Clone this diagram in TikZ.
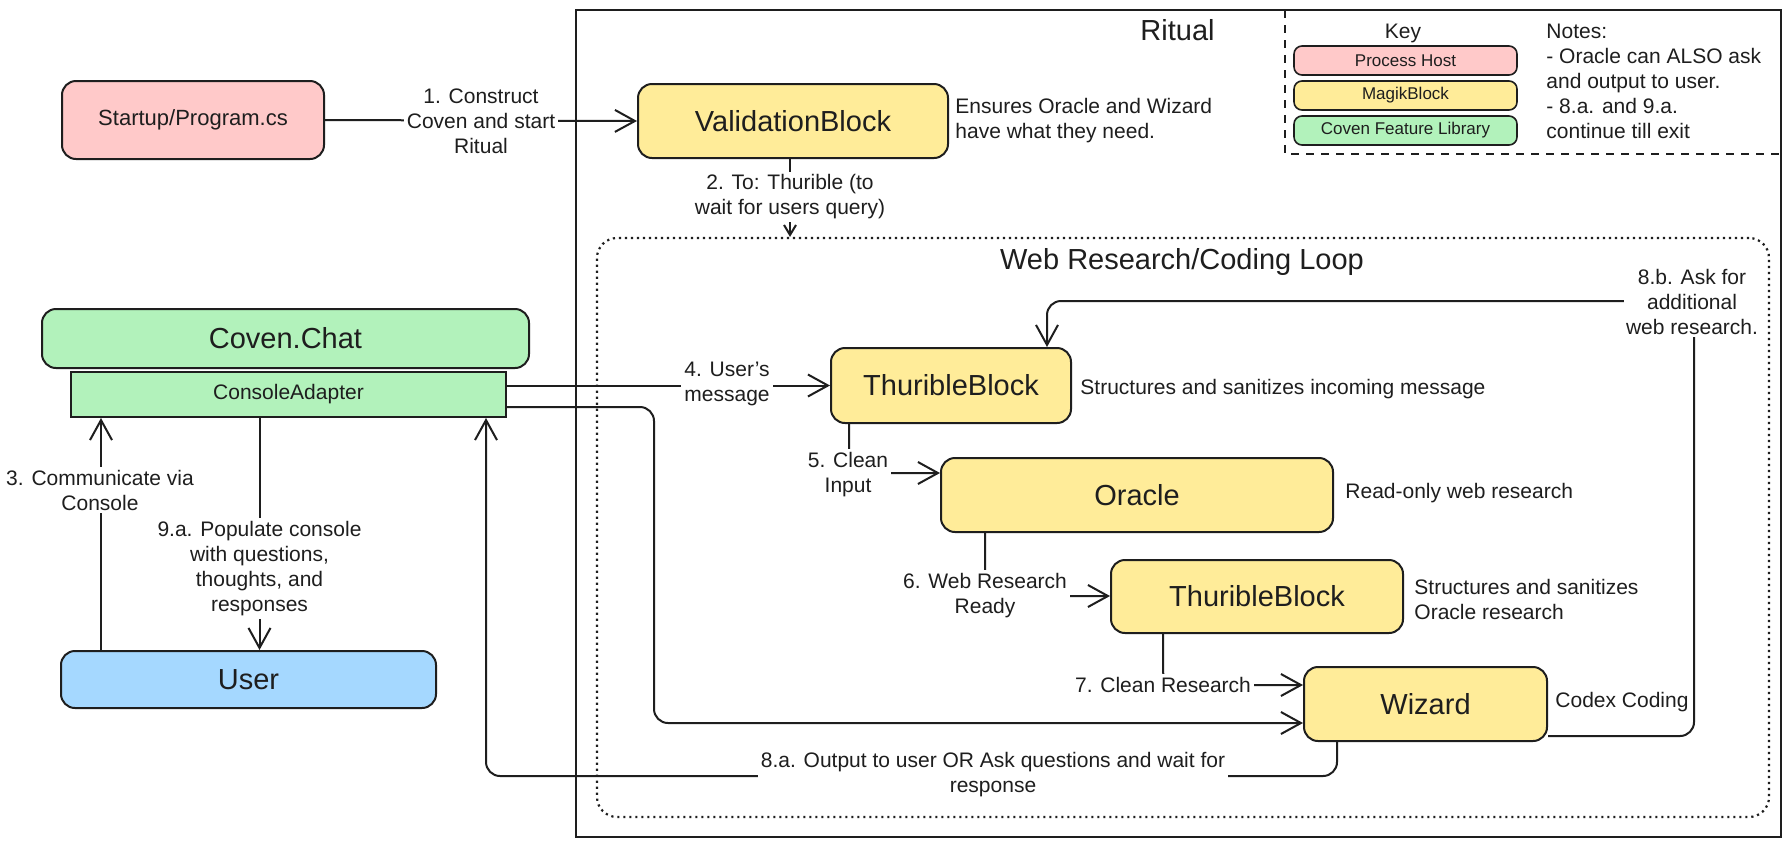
\documentclass[tikz,border=0pt]{standalone}
\usepackage{fontspec}
\setmainfont{Liberation Sans}
\usetikzlibrary{arrows.meta,calc}
\definecolor{ink}{HTML}{1E1E1E}
\definecolor{pinkf}{HTML}{FFC9C9}
\definecolor{yelf}{HTML}{FFEC99}
\definecolor{grnf}{HTML}{B2F2BB}
\definecolor{bluf}{HTML}{A5D8FF}
\begin{document}
\begin{tikzpicture}[x=0.5pt,y=-0.5pt,
  box/.style={draw=ink,line width=1pt,rounded corners=7pt,text=ink,align=center,inner sep=0pt},
  bigt/.style={font=\fontsize{14.5}{16}\selectfont},
  keyitem/.style={box,rounded corners=4pt,line width=0.8pt,minimum width=111.5pt,minimum height=14.5pt,font=\fontsize{8.5}{10}\selectfont},
  lbl/.style={fill=white,text=ink,align=center,inner sep=1.5pt,font=\fontsize{10.5}{12.5}\selectfont},
  note/.style={text=ink,align=left,anchor=west,inner sep=0pt,font=\fontsize{10.5}{12.5}\selectfont},
  heading/.style={text=ink,inner sep=0pt,font=\fontsize{14.5}{16}\selectfont},
  arr/.style={draw=ink,line width=1pt,rounded corners=7pt,-{Straight Barb[length=10pt,width=11pt,line width=1pt]}},
  smallarr/.style={arr,-{Straight Barb[length=5pt,width=6pt,line width=1pt]}}
]
\useasboundingbox (0,0) rectangle (1791,847);
\fill[white] (0,0) rectangle (1791,847);

% frames
\node[draw=ink,line width=1pt,minimum width=602.5pt,minimum height=413.5pt,inner sep=0pt] (ritual) at (1178.5,423.5) {};
\draw[ink,line width=0.9pt,dash pattern=on 4pt off 3.5pt] (1285,10) -- (1285,154) -- (1781,154);
\node[draw=ink,line width=1.1pt,dash pattern=on 1.1pt off 1.9pt,rounded corners=10pt,minimum width=586pt,minimum height=289.5pt,inner sep=0pt] (loop) at (1183,527.5) {};
\node[heading] (ritualt) at (1177.5,30) {Ritual};
\node[heading] (loopt) at (1182,262) {Web Research/Coding Loop};

% key
\node[text=ink,inner sep=0pt,font=\fontsize{10.5}{12}\selectfont] (keyt) at (1403,33) {Key};
\node[keyitem,fill=pinkf] (kph) at (1405.5,60.5) {Process Host};
\node[keyitem,fill=yelf] (kmb) at (1405.5,95.5) {MagikBlock};
\node[keyitem,fill=grnf] (kcf) at (1405.5,130.5) {Coven Feature Library};
\node[note,anchor=north west,font=\fontsize{10.5}{12.5}\selectfont] (notes) at (1546,24) {Notes:\\- Oracle can ALSO ask\\and output to user.\\- 8.a. and 9.a.\\continue till exit};

% boxes
\node[box,fill=pinkf,minimum width=131pt,minimum height=39pt,font=\fontsize{11}{13}\selectfont] (startup) at (193,120) {Startup/Program.cs};
\node[box,fill=yelf,bigt,minimum width=155pt,minimum height=37pt] (val) at (793,121) {ValidationBlock};
\node[box,fill=grnf,bigt,minimum width=243.5pt,minimum height=29.5pt] (chat) at (285.5,338.5) {Coven.Chat};
\node[box,fill=grnf,rounded corners=0pt,minimum width=217.5pt,minimum height=22.5pt,font=\fontsize{10.5}{12}\selectfont] (ca) at (288.5,394.5) {ConsoleAdapter};
\node[box,fill=bluf,bigt,minimum width=187.5pt,minimum height=28.5pt] (user) at (248.5,679.5) {User};
\node[box,fill=yelf,bigt,minimum width=120pt,minimum height=37.5pt] (tb1) at (951,385.5) {ThuribleBlock};
\node[box,fill=yelf,bigt,minimum width=196pt,minimum height=37pt] (oracle) at (1137,495) {Oracle};
\node[box,fill=yelf,bigt,minimum width=146pt,minimum height=36.5pt] (tb2) at (1257,596.5) {ThuribleBlock};
\node[box,fill=yelf,bigt,minimum width=121.5pt,minimum height=37pt] (wiz) at (1425.5,704) {Wizard};

% helper coordinates
\coordinate (x2) at (790,0);
\coordinate (x3) at (101,0);
\coordinate (x9) at (259.5,0);
\coordinate (x8a) at (486,0);
\coordinate (ywz) at (0,407);
\coordinate (c5) at (849,473);
\coordinate (c6) at (985,596);
\coordinate (c7) at (1163,685);
\coordinate (cw1) at (654,407);
\coordinate (cw2) at (654,723);
\coordinate (c8a1) at (1337,776);
\coordinate (c8a2) at (486,776);
\coordinate (c8b0) at (0,736);
\coordinate (c8b1) at (1694,736);
\coordinate (c8b2) at (1694,301);
\coordinate (c8b3) at (1047,301);

% connectors
\draw[arr] (startup.east) -- (val.west);
\draw[smallarr] (val.south -| x2) -- (x2 |- loop.north);
\draw[arr] (user.north -| x3) -- (ca.south -| x3);
\draw[arr] (ca.south -| x9) -- (user.north -| x9);
\draw[arr] (ca.east |- tb1.west) -- (tb1.west);
\draw[arr] (ca.east |- ywz) -- (cw1) -- (cw2) -- (wiz.west |- cw2);
\draw[arr] (tb1.south -| c5) -- (c5) -- (oracle.west |- c5);
\draw[arr] (oracle.south -| c6) -- (c6) -- (tb2.west |- c6);
\draw[arr] (tb2.south -| c7) -- (c7) -- (wiz.west |- c7);
\draw[arr] (wiz.south -| c8a1) -- (c8a1) -- (c8a2) -- (ca.south -| x8a);
\draw[arr] (wiz.east |- c8b0) -- (c8b1) -- (c8b2) -- (c8b3) -- (tb1.north -| c8b3);

% labels
\node[lbl] (l1) at (481,121) {1. Construct\\Coven and start\\Ritual};
\node[lbl] (l2) at (790,197) {2. To: Thurible (to\\wait for users query)};
\node[lbl] (l3) at (100,490) {3. Communicate via\\Console};
\node[lbl] (l4) at (727,384) {4. User's\\message};
\node[lbl] (l5) at (848,474.5) {5. Clean\\Input};
\node[lbl] (l6) at (985,595.5) {6. Web Research\\Ready};
\node[lbl] (l7) at (1163,685) {7. Clean Research};
\node[lbl] (l8a) at (993,775) {8.a. Output to user OR Ask questions and wait for\\response};
\node[lbl,inner sep=1pt] (l8b) at (1692,302) {8.b. Ask for\\additional\\web research.};
\node[lbl] (l9) at (259.5,568.5) {9.a. Populate console\\with questions,\\thoughts, and\\responses};

% notes
\node[note] (nval) at (955,120.5) {Ensures Oracle and Wizard\\have what they need.};
\node[note] (ntb1) at (1080,389) {Structures and sanitizes incoming message};
\node[note] (nor) at (1345,493) {Read-only web research};
\node[note] (ntb2) at (1414,599.5) {Structures and sanitizes\\Oracle research};
\node[note] (nwiz) at (1555,702) {Codex Coding};
\end{tikzpicture}
\end{document}
